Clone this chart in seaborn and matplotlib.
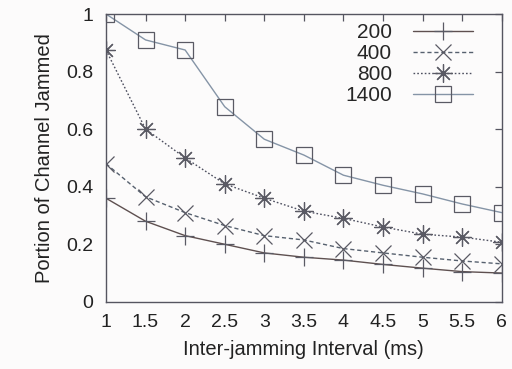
import numpy as np
import pandas as pd
import matplotlib
matplotlib.use("Agg")
import matplotlib.pyplot as plt
import seaborn as sns

# values
intervals = [1, 1.5, 2, 2.5, 3, 3.5, 4, 4.5, 5, 5.5, 6]
jam_200 = [0.36, 0.28, 0.23, 0.20, 0.17, 0.155, 0.145, 0.13, 0.117, 0.105, 0.10]
jam_400 = [0.48, 0.365, 0.31, 0.265, 0.23, 0.215, 0.185, 0.17, 0.155, 0.142, 0.132]
jam_800 = [0.875, 0.60, 0.50, 0.41, 0.36, 0.315, 0.29, 0.26, 0.235, 0.225, 0.207]
jam_1400 = [1.0, 0.91, 0.875, 0.678, 0.565, 0.51, 0.44, 0.405, 0.375, 0.34, 0.31]
labels = ["200", "400", "800", "1400"]

sns.set_theme(style="white")
plt.rcParams['font.family'] = ['Liberation Sans', 'DejaVu Sans']

df = pd.DataFrame({"interval": intervals * 4,
                   "portion": jam_200 + jam_400 + jam_800 + jam_1400,
                   "series": sum([[l] * len(intervals) for l in labels], [])})

styles = {
    "200": dict(color="#5e5050", linestyle="-", marker="+", markersize=13),
    "400": dict(color="#56606e", linestyle=(0, (3, 2)), marker="x", markersize=11),
    "800": dict(color="#4e5060", linestyle=(0, (1.2, 1.5)), marker=(8, 2, 0), markersize=13),
    "1400": dict(color="#8594a6", linestyle="-", marker="s", markersize=11,
                 markerfacecolor="none"),
}

fig = plt.figure(figsize=(5.12, 3.69), dpi=100)
fig.patch.set_facecolor("#fcfbfb")
ax = fig.add_axes([0.207, 0.182, 0.773, 0.780])
ax.set_facecolor("#fcfbfb")

for lab in labels:
    st = dict(styles[lab])
    sns.lineplot(data=df[df.series == lab], x="interval", y="portion", ax=ax,
                 label=lab, linewidth=1.0, markeredgewidth=0.9,
                 markeredgecolor="#5a5a64", **st)

ax.set_xlim(1, 6)
ax.set_ylim(0, 1)
ax.set_xticks(intervals)
ax.set_xticklabels(["1", "1.5", "2", "2.5", "3", "3.5", "4", "4.5", "5", "5.5", "6"])
ax.set_yticks([0, 0.2, 0.4, 0.6, 0.8, 1])
ax.set_yticklabels(["0", "0.2", "0.4", "0.6", "0.8", "1"])
ax.tick_params(direction="in", length=5, width=0.9, top=True, right=True,
               labelsize=14, colors="#222222", pad=9)
ax.tick_params(axis="both", color="#555560")
ax.tick_params(axis="x", pad=9)
for s in ax.spines.values():
    s.set_color("#555560")
    s.set_linewidth(1.0)

ax.set_xlabel("Inter-jamming Interval (ms)", fontsize=14.5, color="#222222", labelpad=6)
ax.set_ylabel("Portion of Channel Jammed", fontsize=14.5, color="#222222", labelpad=9)

ax.legend(loc="upper right", bbox_to_anchor=(0.965, 1.02), frameon=False,
          markerfirst=False, fontsize=15, handlelength=2.9, labelspacing=0.1,
          handletextpad=1.0, borderaxespad=0.3)

fig.savefig("out.png", dpi=100, facecolor=fig.get_facecolor())
